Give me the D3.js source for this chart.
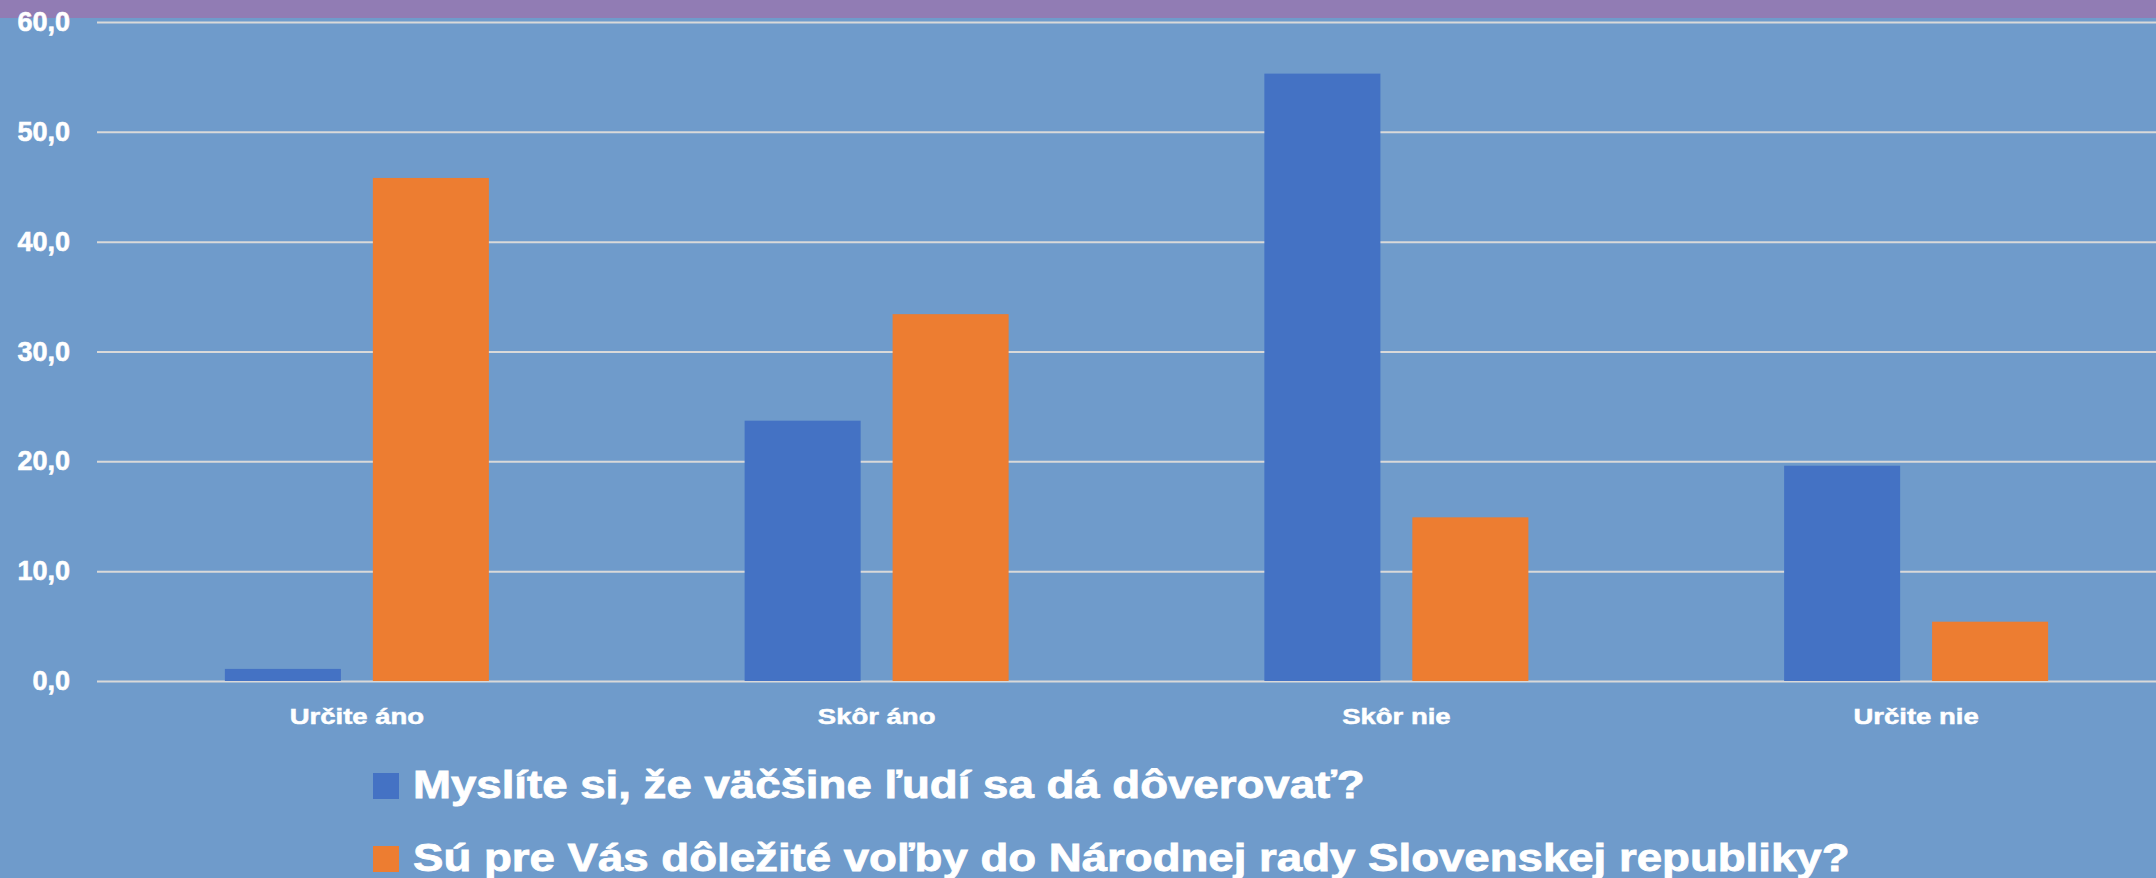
<!DOCTYPE html>
<meta charset="utf-8">
<script src="https://d3js.org/d3.v7.min.js"></script>
<style>
  body { margin: 0; background: #6f9bcb; }
  svg text { font-family: "Liberation Sans", Arial, sans-serif; font-weight: bold; fill: #fff; stroke: #fff; }
</style>
<body>
<div id="chart"></div>
<script>

var categories = ["Určite áno", "Skôr áno", "Skôr nie", "Určite nie"];
var seriesNames = [
  "Myslíte si, že väčšine ľudí sa dá dôverovať?",
  "Sú pre Vás dôležité voľby do Národnej rady Slovenskej republiky?"
];
var trustValues = [1.1, 23.7, 55.3, 19.6];
var electionValues = [45.8, 33.4, 14.9, 5.4];
var yTicks = [0, 10, 20, 30, 40, 50, 60];
var colors = ["#4472c4", "#ed7d31"];

var W = 2156, H = 878;

var svg = d3.select("#chart")
  .append("svg")
    .attr("width", W)
    .attr("height", H);

svg.append("rect")
  .attr("width", W).attr("height", H)
  .attr("fill", "#6f9bcb");

// purple strip at the top
svg.append("rect")
  .attr("width", W).attr("height", 18)
  .attr("fill", "#917cb4");

var x0 = d3.scaleBand()
  .domain(categories)
  .range([97, 2176]);

var x1 = d3.scaleBand()
  .domain([0, 1])
  .range([0, x0.bandwidth()])
  .paddingInner(0.216)
  .paddingOuter(0.864);

var y = d3.scaleLinear()
  .domain([0, 60])
  .range([681, 22]);

var fmt = function(d) { return d3.format(".1f")(d).replace(".", ","); };

var yAxis = svg.append("g")
  .attr("transform", "translate(97,0)")
  .call(d3.axisLeft(y)
    .tickValues(yTicks)
    .tickSize(-(W - 97))
    .tickPadding(27)
    .tickFormat(fmt));
yAxis.select(".domain").remove();
yAxis.selectAll(".tick line")
  .attr("stroke", "#d9d9d9")
  .attr("stroke-width", 2);
yAxis.selectAll(".tick text")
  .attr("fill", "#fff")
  .attr("stroke-width", 0.6)
  .style("font-size", "27px")
  .style("font-family", "'Liberation Sans', Arial, sans-serif")
  .style("font-weight", "bold");

var rows = categories.map(function(c, i) {
  return { cat: c, vals: [trustValues[i], electionValues[i]] };
});

var groups = svg.append("g").selectAll("g")
  .data(rows)
  .join("g")
    .attr("transform", function(d) { return "translate(" + x0(d.cat) + ",0)"; });

groups.selectAll("rect")
  .data(function(d) { return d.vals.map(function(v, k) { return { k: k, v: v }; }); })
  .join("rect")
    .attr("x", function(d) { return x1(d.k); })
    .attr("y", function(d) { return y(d.v); })
    .attr("width", x1.bandwidth())
    .attr("height", function(d) { return y(0) - y(d.v); })
    .attr("fill", function(d) { return colors[d.k]; });

// category labels (reference font is wider than Arial, so stretch a bit)
svg.append("g").selectAll("text")
  .data(categories)
  .join("text")
    .attr("transform", function(d) {
      return "translate(" + (x0(d) + x0.bandwidth() / 2) + ",724) scale(1.25,1)";
    })
    .attr("text-anchor", "middle")
    .attr("stroke-width", 0.5)
    .style("font-size", "22px")
    .text(function(d) { return d; });

// legend
var legend = svg.append("g").selectAll("g")
  .data(seriesNames)
  .join("g")
    .attr("transform", function(d, i) { return "translate(373," + (773 + i * 73) + ")"; });

legend.append("rect")
  .attr("width", 26).attr("height", 26)
  .attr("fill", function(d, i) { return colors[i]; });

legend.append("text")
  .attr("transform", "translate(40,25) scale(1.2,1)")
  .attr("stroke-width", 0.8)
  .style("font-size", "38px")
  .text(function(d) { return d; });

</script>
</body>
